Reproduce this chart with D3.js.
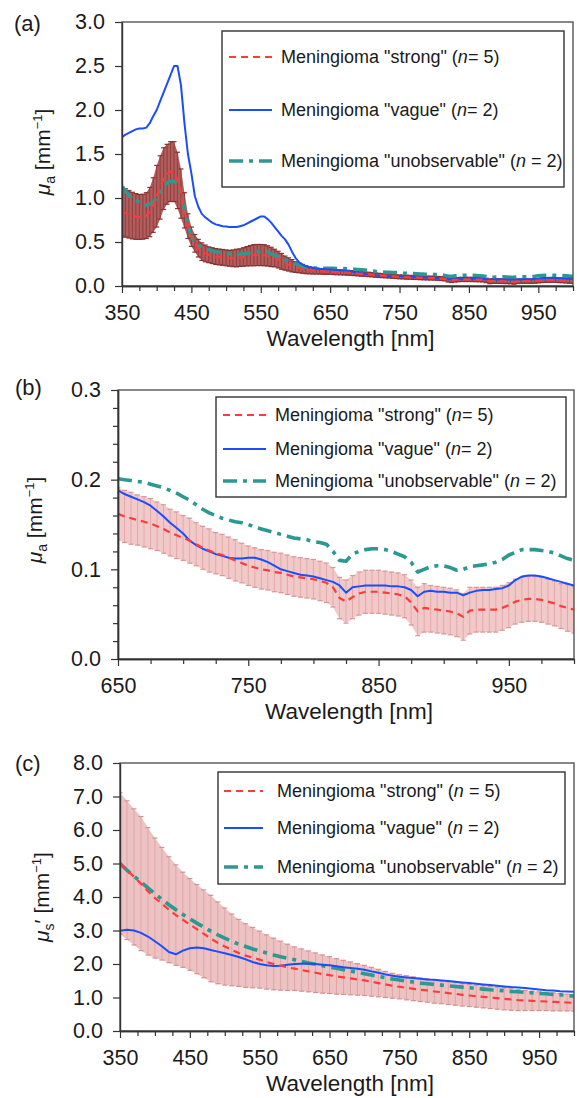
<!DOCTYPE html>
<html>
<head>
<meta charset="utf-8">
<script src="https://cdn.jsdelivr.net/npm/d3@7"></script>
<style>
  body { margin: 0; background: #fff; }
  svg { display: block; }
  text { font-family: "Liberation Sans", Arial, Helvetica, sans-serif; fill: #1a1a1a; }
</style>
</head>
<body>
<svg id="fig" width="577" height="1098"></svg>
<script>
// ---------- absorption coefficient mu_a [mm^-1], 5 nm sampling ----------
const wlAbs = [350,355,360,365,370,375,380,385,390,395,400,405,410,415,420,425,430,435,440,445,
  450,455,460,465,470,475,480,485,490,495,500,505,510,515,520,525,530,535,540,545,
  550,555,560,565,570,575,580,585,590,595,600,605,610,615,620,625,630,635,640,645,
  650,655,660,665,670,675,680,685,690,695,700,705,710,715,720,725,730,735,740,745,
  750,755,760,765,770,775,780,785,790,795,800,805,810,815,820,825,830,835,840,845,
  850,855,860,865,870,875,880,885,890,895,900,905,910,915,920,925,930,935,940,945,
  950,955,960,965,970,975,980,985,990,995,1000];

const absStrongMean = [0.845,0.83,0.815,0.80,0.79,0.785,0.787,0.80,0.84,0.92,1.02,1.12,1.22,1.27,1.30,1.30,1.20,1.05,0.86,0.68,
  0.56,0.485,0.43,0.39,0.37,0.355,0.345,0.335,0.33,0.325,0.32,0.315,0.315,0.318,0.322,0.33,0.338,0.345,0.35,0.352,
  0.352,0.35,0.342,0.33,0.318,0.30,0.28,0.26,0.245,0.23,0.215,0.205,0.195,0.185,0.178,0.173,0.170,0.167,0.165,0.163,
  0.162,0.159,0.157,0.155,0.153,0.151,0.148,0.145,0.141,0.138,0.135,0.132,0.128,0.124,0.121,0.118,0.116,0.113,0.110,0.107,
  0.104,0.102,0.100,0.099,0.097,0.096,0.094,0.092,0.091,0.090,0.089,0.087,0.085,0.080,0.068,0.064,0.069,0.073,0.075,0.075,
  0.075,0.074,0.073,0.072,0.070,0.063,0.053,0.057,0.056,0.055,0.054,0.053,0.051,0.047,0.054,0.055,0.055,0.055,0.055,0.057,
  0.060,0.064,0.066,0.067,0.067,0.066,0.064,0.062,0.059,0.057,0.055];

const absStrongSD = [0.28,0.275,0.27,0.265,0.26,0.255,0.255,0.26,0.28,0.31,0.35,0.36,0.35,0.34,0.34,0.34,0.32,0.28,0.20,0.14,
  0.11,0.10,0.10,0.10,0.095,0.09,0.09,0.09,0.09,0.09,0.09,0.09,0.095,0.10,0.10,0.105,0.11,0.115,0.12,0.12,
  0.12,0.12,0.115,0.11,0.10,0.095,0.09,0.08,0.075,0.07,0.06,0.055,0.05,0.045,0.04,0.037,0.034,0.032,0.031,0.030,
  0.029,0.029,0.029,0.028,0.028,0.028,0.027,0.027,0.026,0.026,0.025,0.025,0.024,0.024,0.024,0.023,0.023,0.023,0.023,0.022,
  0.022,0.022,0.022,0.022,0.022,0.022,0.022,0.022,0.022,0.022,0.022,0.022,0.022,0.022,0.023,0.024,0.024,0.024,0.024,0.024,
  0.024,0.024,0.024,0.024,0.024,0.025,0.027,0.027,0.026,0.026,0.026,0.026,0.026,0.026,0.026,0.025,0.025,0.025,0.025,0.025,
  0.025,0.025,0.025,0.025,0.025,0.025,0.025,0.025,0.025,0.026,0.026];

const absVague = [1.69,1.72,1.74,1.76,1.78,1.79,1.79,1.80,1.85,1.93,2.00,2.10,2.20,2.30,2.40,2.50,2.50,2.28,1.85,1.50,
  1.28,1.02,0.90,0.82,0.78,0.75,0.72,0.70,0.69,0.68,0.675,0.67,0.67,0.67,0.68,0.69,0.71,0.73,0.75,0.77,
  0.79,0.79,0.76,0.72,0.67,0.62,0.57,0.53,0.47,0.39,0.32,0.27,0.245,0.225,0.215,0.207,0.200,0.196,0.193,0.190,
  0.188,0.184,0.181,0.178,0.175,0.171,0.165,0.159,0.152,0.146,0.140,0.132,0.127,0.123,0.120,0.117,0.115,0.113,0.112,0.112,
  0.113,0.113,0.111,0.108,0.104,0.100,0.098,0.096,0.094,0.093,0.092,0.090,0.088,0.086,0.082,0.074,0.080,0.081,0.082,0.082,
  0.082,0.082,0.081,0.081,0.080,0.077,0.070,0.075,0.076,0.075,0.075,0.074,0.074,0.071,0.074,0.076,0.077,0.077,0.078,0.079,
  0.082,0.088,0.092,0.093,0.093,0.092,0.090,0.088,0.086,0.084,0.082];

const absUnobs = [1.13,1.08,1.03,0.99,0.975,0.95,0.92,0.92,0.93,0.955,1.00,1.07,1.13,1.17,1.19,1.19,1.15,1.05,0.88,0.70,
  0.56,0.50,0.465,0.445,0.43,0.415,0.40,0.39,0.385,0.375,0.37,0.365,0.36,0.36,0.362,0.365,0.37,0.375,0.38,0.39,
  0.40,0.40,0.385,0.365,0.35,0.335,0.32,0.30,0.28,0.265,0.25,0.237,0.225,0.215,0.208,0.205,0.203,0.202,0.201,0.201,
  0.201,0.200,0.199,0.198,0.197,0.195,0.193,0.191,0.188,0.185,0.181,0.177,0.172,0.167,0.163,0.160,0.157,0.155,0.153,0.152,
  0.150,0.147,0.145,0.143,0.141,0.139,0.137,0.135,0.134,0.133,0.131,0.130,0.128,0.120,0.110,0.109,0.117,0.120,0.122,0.123,
  0.123,0.122,0.120,0.117,0.114,0.108,0.097,0.100,0.103,0.104,0.104,0.102,0.099,0.100,0.103,0.104,0.105,0.106,0.108,0.111,
  0.116,0.119,0.122,0.122,0.122,0.121,0.120,0.118,0.115,0.112,0.110];

// ---------- reduced scattering coefficient mu_s' [mm^-1], 10 nm sampling ----------
const wlSca = [350,360,370,380,390,400,410,420,430,440,450,460,470,480,490,500,510,520,530,540,
  550,560,570,580,590,600,610,620,630,640,650,660,670,680,690,700,710,720,730,740,
  750,760,770,780,790,800,810,820,830,840,850,860,870,880,890,900,910,920,930,940,
  950,960,970,980,990,1000];

const scaStrongMean = [5.0,4.8,4.6,4.4,4.17,3.97,3.8,3.62,3.46,3.32,3.18,3.04,2.9,2.76,2.63,2.52,2.42,2.33,2.25,2.19,
  2.13,2.06,2.0,1.95,1.9,1.86,1.82,1.78,1.74,1.70,1.67,1.63,1.60,1.57,1.54,1.51,1.47,1.43,1.39,1.35,
  1.32,1.29,1.26,1.23,1.21,1.18,1.16,1.13,1.11,1.08,1.06,1.04,1.02,1.0,0.98,0.96,0.94,0.92,0.91,0.90,
  0.89,0.88,0.87,0.86,0.85,0.84];

const scaStrongSD = [2.11,2.07,2.03,2.0,1.9,1.79,1.68,1.58,1.5,1.42,1.37,1.33,1.31,1.29,1.22,1.15,1.07,1.0,0.95,0.9,
  0.85,0.81,0.77,0.73,0.69,0.65,0.63,0.61,0.59,0.57,0.55,0.53,0.51,0.49,0.47,0.45,0.43,0.41,0.39,0.37,
  0.36,0.36,0.355,0.35,0.35,0.35,0.345,0.34,0.34,0.335,0.33,0.33,0.33,0.33,0.33,0.33,0.32,0.31,0.30,0.29,
  0.28,0.27,0.27,0.26,0.25,0.25];

const scaVague = [2.99,3.02,3.0,2.93,2.82,2.68,2.53,2.36,2.29,2.40,2.47,2.49,2.47,2.42,2.37,2.32,2.27,2.21,2.14,2.06,
  2.00,1.96,1.94,1.95,1.98,2.00,2.01,2.01,2.0,1.98,1.96,1.93,1.90,1.88,1.86,1.83,1.78,1.74,1.69,1.65,
  1.62,1.60,1.58,1.56,1.54,1.53,1.51,1.49,1.47,1.45,1.43,1.41,1.39,1.37,1.35,1.33,1.31,1.30,1.28,1.26,
  1.24,1.22,1.21,1.19,1.18,1.17];

const scaUnobs = [5.0,4.8,4.62,4.45,4.27,4.1,3.93,3.77,3.62,3.48,3.35,3.22,3.1,2.98,2.87,2.77,2.68,2.59,2.52,2.45,
  2.39,2.33,2.27,2.22,2.17,2.13,2.08,2.03,1.99,1.95,1.91,1.87,1.83,1.79,1.75,1.71,1.67,1.63,1.59,1.55,
  1.52,1.49,1.46,1.43,1.41,1.39,1.37,1.35,1.33,1.31,1.29,1.27,1.25,1.23,1.22,1.20,1.18,1.17,1.15,1.14,
  1.12,1.11,1.09,1.08,1.06,1.04];

// ---------- axis ticks ----------
const ticksWideMajor = [350,450,550,650,750,850,950];
const ticksWideMinor = [375,400,425,475,500,525,575,600,625,675,700,725,775,800,825,875,900,925,975,1000];
const ticksNirMajor = [650,750,850,950];
const ticksNirMinor = [675,700,725,775,800,825,875,900,925,975,1000];
const ticksAbsMajor = [0,0.5,1.0,1.5,2.0,2.5,3.0];
const ticksNirAbsMajor = [0,0.1,0.2,0.3];
const ticksNirAbsMinor = [0.02,0.04,0.06,0.08,0.12,0.14,0.16,0.18,0.22,0.24,0.26,0.28];
const ticksScaMajor = [0,1,2,3,4,5,6,7,8];

const groupNames = ['Meningioma "strong" (', 'Meningioma "vague" (', 'Meningioma "unobservable" ('];
const groupCounts = ['= 5)', '= 2)', ' = 2)'];
const groupCountsC = [' = 5)', ' = 2)', ' = 2)'];

const svg = d3.select('#fig');

const styles = {
  strong: { stroke: '#ff3a3a', width: 2.2, dash: '7,5' },
  vague:  { stroke: '#1b4dff', width: 2.0, dash: null },
  unobs:  { stroke: '#2b9891', width: 3.6, dash: '14,6,4,6' }
};

function yTitle(g, cx, cy, sub, prime) {
  const t = g.append('text')
    .attr('transform', `translate(${cx},${cy}) rotate(-90)`)
    .attr('text-anchor', 'middle')
    .attr('dy', '0.35em')
    .style('font-size', '21px');
  t.append('tspan').text('μ').style('font-style', 'italic');
  t.append('tspan').text(sub).style('font-size', '14px').attr('dy', 5);
  t.append('tspan').text((prime ? '′' : '') + ' [mm').attr('dy', -5);
  t.append('tspan').text('−1').style('font-size', '13px').attr('dy', -8);
  t.append('tspan').text(']').attr('dy', 8);
}

function drawPanel(p) {
  const g = svg.append('g');
  const x = d3.scaleLinear().domain(p.xDomain).range([p.left, p.right]);
  const y = d3.scaleLinear().domain(p.yDomain).range([p.bottom, p.top]);

  const clipId = 'clip-' + p.id;
  svg.append('clipPath').attr('id', clipId).append('rect')
    .attr('x', p.left).attr('y', p.top - 1)
    .attr('width', p.right - p.left).attr('height', p.bottom - p.top + 1);

  const rows = p.wl.map((w, i) => ({ w, m: p.mean[i], s: p.sd[i], v: p.vague[i], u: p.unobs[i] }))
    .filter(d => d.w >= p.xDomain[0] && d.w <= p.xDomain[1]);

  const plot = g.append('g').attr('clip-path', `url(#${clipId})`);

  // error band of the "strong" group: mean ± SD
  plot.append('path').datum(rows)
    .attr('d', d3.area().x(d => x(d.w)).y0(d => y(d.m - d.s)).y1(d => y(d.m + d.s)))
    .attr('fill', p.band.fill).attr('stroke', 'none');
  const bars = plot.append('g').selectAll('g').data(rows).join('g');
  bars.append('line')
    .attr('x1', d => x(d.w)).attr('x2', d => x(d.w))
    .attr('y1', d => y(d.m - d.s)).attr('y2', d => y(d.m + d.s))
    .attr('stroke', p.band.bar).attr('stroke-width', p.band.barWidth);
  [-1, 1].forEach(sign => {
    bars.append('line')
      .attr('x1', d => x(d.w) - p.band.cap).attr('x2', d => x(d.w) + p.band.cap)
      .attr('y1', d => y(d.m + sign * d.s)).attr('y2', d => y(d.m + sign * d.s))
      .attr('stroke', p.band.capColor).attr('stroke-width', 1.2);
  });

  const line = key => d3.line().x(d => x(d.w)).y(d => y(d[key]));
  [['u', styles.unobs], ['v', styles.vague], ['m', styles.strong]].forEach(([key, st]) => {
    plot.append('path').datum(rows)
      .attr('d', line(key))
      .attr('fill', 'none')
      .attr('stroke', st.stroke)
      .attr('stroke-width', st.width)
      .attr('stroke-dasharray', st.dash)
      .attr('stroke-linejoin', 'round');
  });

  // frame
  g.append('rect').attr('x', p.left).attr('y', p.top)
    .attr('width', p.right - p.left).attr('height', p.bottom - p.top)
    .attr('fill', 'none').attr('stroke', '#555').attr('stroke-width', 1.4);

  // axes
  g.append('g').attr('transform', `translate(0,${p.bottom})`)
    .call(d3.axisBottom(x).tickValues(p.xMajor).tickFormat(d3.format('d')).tickSize(7).tickPadding(12).tickSizeOuter(0));
  g.append('g').attr('transform', `translate(0,${p.bottom})`)
    .call(d3.axisBottom(x).tickValues(p.xMinor).tickFormat('').tickSize(5).tickSizeOuter(0));
  g.append('g').attr('transform', `translate(${p.left},0)`)
    .call(d3.axisLeft(y).tickValues(p.yMajor).tickFormat(d3.format('.1f')).tickSize(7).tickPadding(10).tickSizeOuter(0));
  if (p.yMinor) {
    g.append('g').attr('transform', `translate(${p.left},0)`)
      .call(d3.axisLeft(y).tickValues(p.yMinor).tickFormat('').tickSize(5).tickSizeOuter(0));
  }
  g.selectAll('.domain').attr('stroke', '#333').attr('stroke-width', 1.4);
  g.selectAll('.tick line').attr('stroke', '#333').attr('stroke-width', 1.2);
  g.selectAll('.tick text').style('font-size', '21.5px').style('font-family', '"Liberation Sans", Arial, sans-serif').attr('fill', '#1a1a1a');

  // titles
  g.append('text').attr('x', (p.left + p.right) / 2 + 3).attr('y', p.bottom + 60)
    .attr('text-anchor', 'middle').style('font-size', '22.5px').text('Wavelength [nm]');
  yTitle(g, p.yTitleX, p.yTitleY, p.sub, p.prime);
  g.append('text').attr('x', p.labelX).attr('y', p.labelY).style('font-size', '22px').text(p.label);

  // legend
  const L = p.legend;
  g.append('rect').attr('x', L.x0).attr('y', L.y0).attr('width', L.x1 - L.x0).attr('height', L.y1 - L.y0)
    .attr('fill', '#fff').attr('stroke', '#333').attr('stroke-width', 1.4);
  const keys = [styles.strong, styles.vague, styles.unobs];
  keys.forEach((st, i) => {
    const yy = L.rows[i];
    g.append('line').attr('x1', L.lx0).attr('x2', L.lx1).attr('y1', yy).attr('y2', yy)
      .attr('stroke', st.stroke).attr('stroke-width', st.width).attr('stroke-dasharray', st.dash);
    const t = g.append('text').attr('x', L.tx).attr('y', yy).attr('dy', '0.35em').style('font-size', '18px');
    t.append('tspan').text(groupNames[i]);
    t.append('tspan').text('n').style('font-style', 'italic');
    t.append('tspan').text(L.counts[i]);
  });
}

drawPanel({
  id: 'a', left: 122, right: 573, top: 22, bottom: 286,
  xDomain: [350, 1000], yDomain: [0, 3.0],
  xMajor: ticksWideMajor, xMinor: ticksWideMinor, yMajor: ticksAbsMajor, yMinor: null,
  wl: wlAbs, mean: absStrongMean, sd: absStrongSD, vague: absVague, unobs: absUnobs,
  band: { fill: '#b05f5f', bar: '#993f3f', barWidth: 1.2, capColor: '#8a3030', cap: 2.5 },
  yTitleX: 43, yTitleY: 152, sub: 'a', prime: false,
  label: '(a)', labelX: 14, labelY: 31,
  legend: { x0: 222, y0: 31, x1: 564, y1: 187, rows: [57, 110, 161], lx0: 229, lx1: 272, tx: 281, counts: groupCounts }
});

drawPanel({
  id: 'b', left: 118, right: 574, top: 390, bottom: 659,
  xDomain: [650, 1000], yDomain: [0, 0.3],
  xMajor: ticksNirMajor, xMinor: ticksNirMinor, yMajor: ticksNirAbsMajor, yMinor: ticksNirAbsMinor,
  wl: wlAbs, mean: absStrongMean, sd: absStrongSD, vague: absVague, unobs: absUnobs,
  band: { fill: '#f1c9c9', bar: '#e3a9a9', barWidth: 1, capColor: '#d99595', cap: 2.5 },
  yTitleX: 35, yTitleY: 520, sub: 'a', prime: false,
  label: '(b)', labelX: 15, labelY: 395,
  legend: { x0: 216, y0: 397, x1: 566, y1: 497, rows: [415, 449, 481], lx0: 223, lx1: 266, tx: 275, counts: groupCounts }
});

drawPanel({
  id: 'c', left: 120, right: 574, top: 763, bottom: 1031,
  xDomain: [350, 1000], yDomain: [0, 8.0],
  xMajor: ticksWideMajor, xMinor: ticksWideMinor, yMajor: ticksScaMajor, yMinor: null,
  wl: wlSca, mean: scaStrongMean, sd: scaStrongSD, vague: scaVague, unobs: scaUnobs,
  band: { fill: '#edc2c2', bar: '#e0a5a5', barWidth: 1, capColor: '#d49090', cap: 2.5 },
  yTitleX: 42, yTitleY: 897, sub: 's', prime: true,
  label: '(c)', labelX: 15, labelY: 771,
  legend: { x0: 218, y0: 772, x1: 565, y1: 884, rows: [791, 828, 867], lx0: 224, lx1: 263, tx: 277, counts: groupCountsC }
});
</script>
</body>
</html>
